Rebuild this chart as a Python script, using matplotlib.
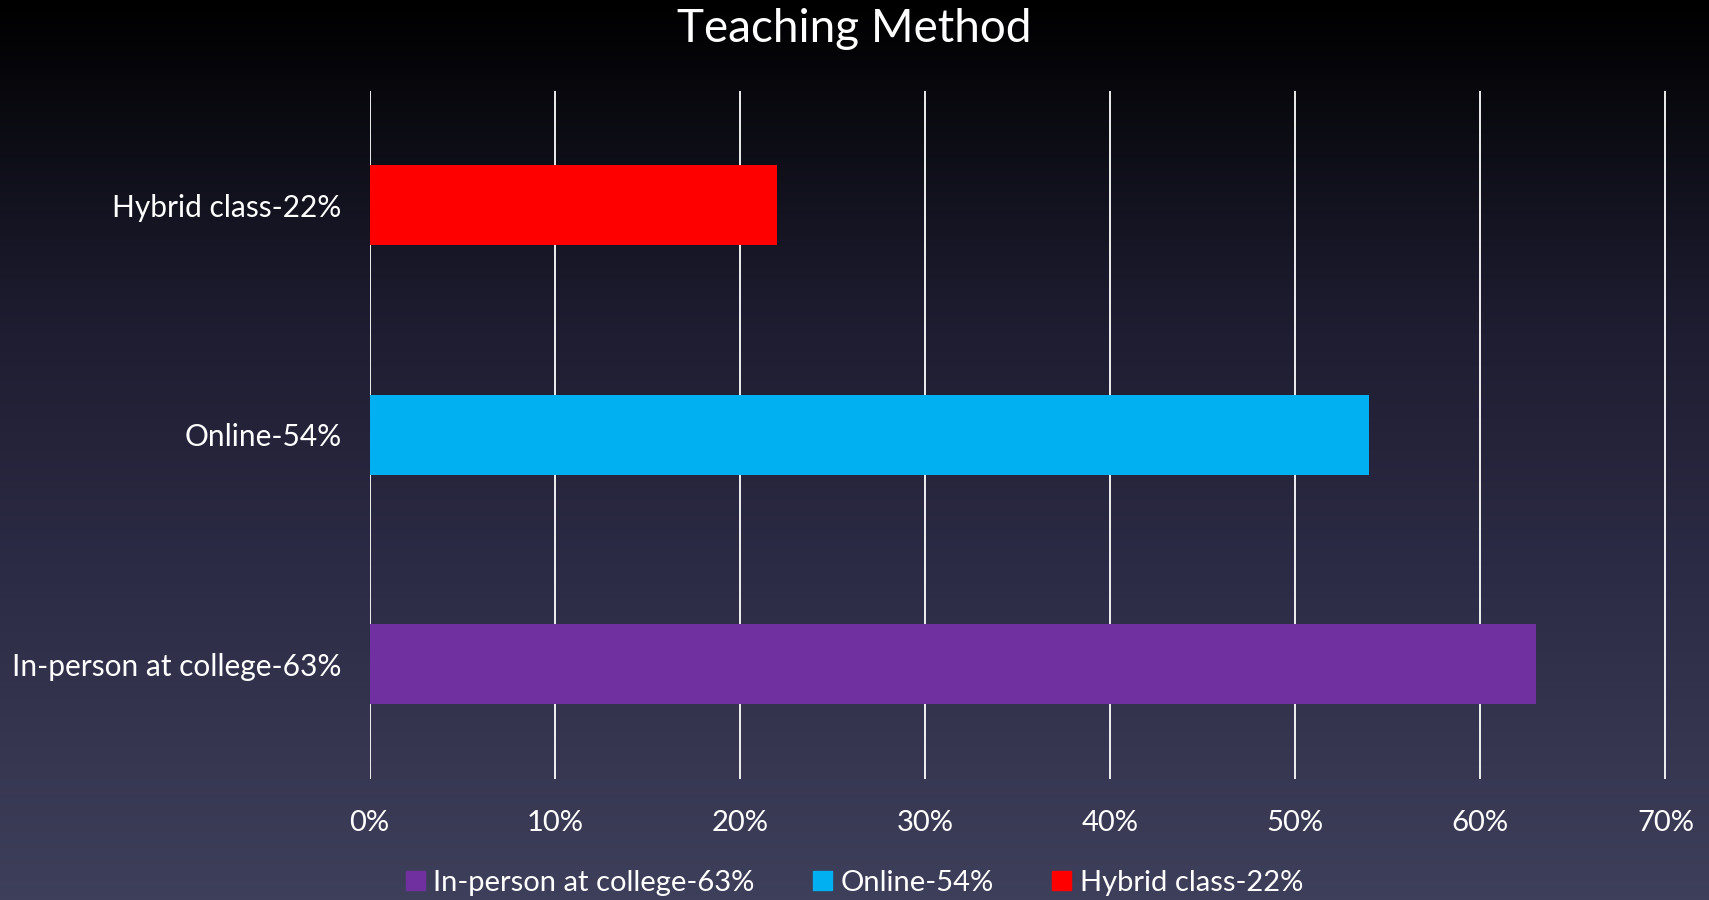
import numpy as np
import matplotlib
matplotlib.use("Agg")
import matplotlib.pyplot as plt
from matplotlib.colors import LinearSegmentedColormap
from matplotlib.patches import Patch

categories = ["In-person at college-63%", "Online-54%", "Hybrid class-22%"]
values = [63, 54, 22]
colors = ["#7030a0", "#00b0f0", "#ff0000"]
xticks = [0, 10, 20, 30, 40, 50, 60, 70]

plt.rcParams["font.family"] = ["Lato", "DejaVu Sans"]

fig = plt.figure(figsize=(17.09, 9), dpi=100)

# background gradient: black at top to slate at bottom
bg = fig.add_axes([0, 0, 1, 1], zorder=-10)
cmap = LinearSegmentedColormap.from_list("bg", ["#000000", "#1c1b2e", "#2e2d48", "#3e3f5a"])
bg.imshow(np.linspace(0, 1, 256).reshape(-1, 1), aspect="auto", cmap=cmap,
          extent=[0, 1, 0, 1], origin="upper")
bg.axis("off")

ax = fig.add_axes([369.5 / 1709, 1 - 779 / 900, (1665.5 - 369.5) / 1709, (779 - 90.5) / 900])
ax.patch.set_alpha(0)
y = np.arange(len(categories))
ax.barh(y, values, height=0.35, color=colors, zorder=3)
ax.set_xlim(0, 70)
ax.set_ylim(-0.5, 2.5)
ax.set_xticks(xticks)
ax.set_xticklabels([f"{t}%" for t in xticks], color="white", fontsize=21)
ax.set_yticks(y)
ax.set_yticklabels(categories, color="white", fontsize=21.5)
ax.tick_params(axis="both", length=0)
ax.tick_params(axis="x", pad=22)
ax.tick_params(axis="y", pad=20)
ax.grid(axis="x", color="white", lw=1.3, zorder=1)
for s in ax.spines.values():
    s.set_visible(False)

fig.text(0.5, 0.953, "Teaching Method", color="white", fontsize=33, ha="center", va="baseline")

handles = [Patch(color=c, label=l) for c, l in zip(colors, categories)]
fig.legend(handles=handles, loc="center", bbox_to_anchor=(0.5, 0.019), ncol=3, frameon=False,
           fontsize=21, labelcolor="white", handlelength=0.65, handleheight=0.65,
           handletextpad=0.3, columnspacing=2.0)

fig.savefig("out.png", dpi=100)
